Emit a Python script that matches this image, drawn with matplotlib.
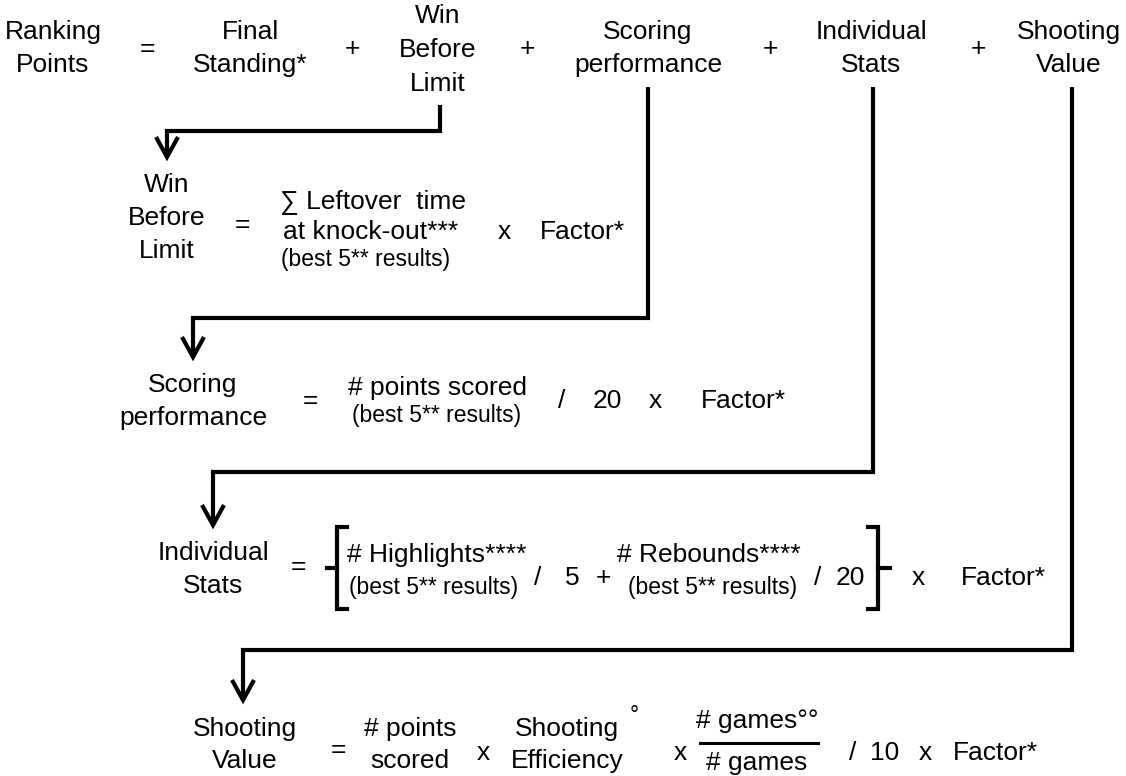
import matplotlib
matplotlib.use("Agg")
import matplotlib.pyplot as plt

plt.rcParams['font.family'] = ['Liberation Sans', 'DejaVu Sans']

# ---- text content ----
top_terms = [["Ranking", "Points"], ["Final", "Standing*"], ["Win", "Before", "Limit"],
             ["Scoring", "performance"], ["Individual", "Stats"], ["Shooting", "Value"]]
top_ops = ["=", "+", "+", "+", "+"]
best5 = "(best 5** results)"
factor = "Factor*"

W, H = 1126, 776
fig = plt.figure(figsize=(W / 100, H / 100), dpi=100)
ax = fig.add_axes([0, 0, 1, 1])
ax.set_xlim(0, W)
ax.set_ylim(H, 0)
ax.axis('off')

BIG = 19
SMALL = 16.5
LW = 3.0


def txt(x, y, s, size=BIG, ha='center'):
    ax.text(x, y, s, fontsize=size, ha=ha, va='baseline', color='black')


def lines(x, ys, labels, size=BIG):
    for y, s in zip(ys, labels):
        txt(x, y, s, size)


def connector(x0, y0, yel, x1, ytip):
    ax.plot([x0, x0, x1, x1], [y0, yel, yel, ytip], color='black', lw=LW,
            solid_joinstyle='miter', solid_capstyle='butt')
    ax.plot([x1 - 11, x1, x1 + 11], [ytip - 20, ytip, ytip - 20], color='black',
            lw=LW, solid_joinstyle='miter', solid_capstyle='butt')


# ---- row 1 ----
col_x = [53, 250, 438, 648, 871, 1069]
op_x = [147, 352, 527, 770, 978]
for x, lab in zip(col_x, top_terms):
    if len(lab) == 3:
        lines(x, [23, 57, 91], lab)
    else:
        lines(x, [39, 72], lab)
for x, o in zip(op_x, top_ops):
    txt(x, 56, o)

# ---- connectors ----
connector(440, 105, 131, 167, 157)
connector(648, 87, 318, 193, 357)
connector(873, 87, 472, 213, 525)
connector(1072, 87, 650, 243, 700)

# ---- block 2: Win Before Limit ----
lines(167, [192, 225, 258], top_terms[2])
txt(242, 232, "=")
txt(280, 208, "∑ Leftover  time", ha='left')
txt(283, 239, "at knock-out***", ha='left')
txt(281, 266, best5, SMALL, ha='left')
txt(504, 239, "x")
txt(582, 239, factor)

# ---- block 3: Scoring performance ----
lines(193, [392, 425], top_terms[3])
txt(310, 408, "=")
txt(437, 395, "# points scored")
txt(437, 422, best5, SMALL)
txt(562, 408, "/")
txt(607, 408, "20")
txt(655, 408, "x")
txt(743, 408, factor)

# ---- block 4: Individual Stats ----
lines(213, [560, 593], top_terms[4])
txt(298, 574, "=")
ax.plot([347, 337, 337, 347], [527, 527, 609, 609], color='black', lw=LW,
        solid_joinstyle='miter')
ax.plot([327, 337], [568, 568], color='black', lw=LW)
txt(347, 562, "# Highlights****", ha='left')
txt(349, 594, best5, SMALL, ha='left')
txt(538, 585, "/")
txt(572, 585, "5")
txt(603, 585, "+")
txt(617, 562, "# Rebounds****", ha='left')
txt(628, 594, best5, SMALL, ha='left')
txt(818, 585, "/")
txt(850, 585, "20")
ax.plot([868, 878, 878, 868], [527, 527, 609, 609], color='black', lw=LW,
        solid_joinstyle='miter')
ax.plot([878, 890], [568, 568], color='black', lw=LW)
txt(918, 585, "x")
txt(1003, 585, factor)

# ---- block 5: Shooting Value ----
lines(245, [736, 768], top_terms[5])
txt(338, 757, "=")
lines(410, [736, 768], ["# points", "scored"])
txt(483, 760, "x")
lines(567, [736, 768], ["Shooting", "Efficiency"])
txt(634, 722, "°", SMALL)
txt(680, 760, "x")
txt(757, 728, "# games°°")
ax.plot([700, 818], [743, 743], color='black', lw=2.2)
txt(757, 770, "# games")
txt(853, 760, "/")
txt(885, 760, "10")
txt(925, 760, "x")
txt(995, 760, factor)

fig.savefig("out.png", dpi=100, facecolor='white')
